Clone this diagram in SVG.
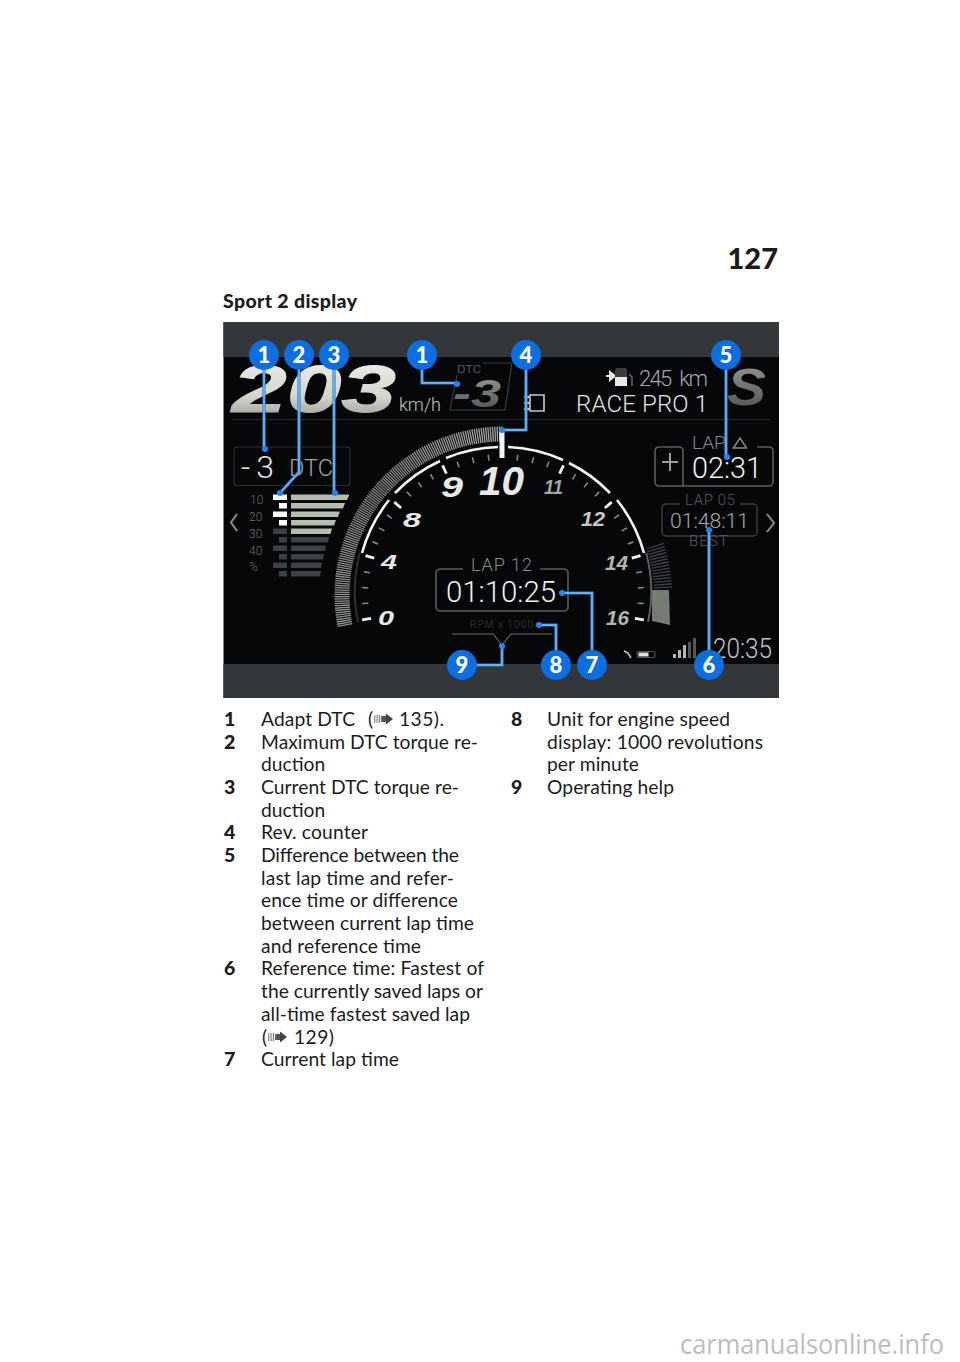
<svg xmlns="http://www.w3.org/2000/svg" xmlns:xlink="http://www.w3.org/1999/xlink" width="960" height="1362" viewBox="0 0 960 1362">
<style>
text{font-family:Roboto,"Liberation Sans",Arial,sans-serif;font-weight:300}
.b{font-family:Lato,"Liberation Sans",sans-serif;font-size:19.25px;font-weight:400;fill:#1c1c1c}
.n{font-family:Lato,"Liberation Sans",sans-serif;font-size:19.5px;font-weight:900;fill:#1c1c1c}
.g,.gg text{font-family:"Liberation Sans",sans-serif;font-weight:700;font-style:italic;fill:#e8e8e4}
.c{fill:none;stroke:#2f7fd0;stroke-width:3.2;stroke-linejoin:miter}
.c2{fill:none;stroke:#6ab2ee;stroke-width:1.8;stroke-linejoin:miter}
.d{fill:#1f86ec}
.bc{fill:#0b6fe3}
.bt{font-family:Lato,"Liberation Sans",sans-serif;font-weight:900;font-size:22px;fill:#fff;text-anchor:middle}
.tm{stroke:#8a8f8a;stroke-width:1.5}
.tb{stroke:#f2f2ee;stroke-width:2.8}
.w{fill:none;stroke:#f4f4f0;stroke-width:2.6}
.box{fill:none;stroke:#5a5e60;stroke-width:1.6}
</style>
<defs>
<linearGradient id="sp" x1="0" y1="0" x2="0" y2="1"><stop offset="0" stop-color="#f3f3ee"/><stop offset=".6" stop-color="#d6d6ce"/><stop offset="1" stop-color="#8e8e88"/></linearGradient>
<linearGradient id="s2" x1="0" y1="0" x2="0" y2="1"><stop offset="0" stop-color="#9a9c9a"/><stop offset="1" stop-color="#4a4c4c"/></linearGradient>
<linearGradient id="band" gradientUnits="userSpaceOnUse" x1="345" y1="625" x2="503" y2="430"><stop offset="0" stop-color="#8f9390"/><stop offset=".5" stop-color="#7d807e"/><stop offset="1" stop-color="#a5a8a2"/></linearGradient>
<line id="m" x1="503" y1="454" x2="503" y2="460" class="tm"/>
<line id="M" x1="503" y1="452" x2="503" y2="461" class="tb"/>
<g id="ref"><rect x="0" y="-4" width="1.4" height="8" fill="#999"/><rect x="2.4" y="-4" width="1.4" height="8" fill="#999"/><rect x="4.8" y="-4" width="1.4" height="8" fill="#888"/><rect x="7.2" y="-3" width="5" height="6" fill="#555"/><path d="M12 -5.500L19 0L12 5.500Z" fill="#444"/></g>
</defs>
<rect width="960" height="1362" fill="#fff"/>
<text x="778" y="269" text-anchor="end" font-size="29" style="font-family:Lato,sans-serif;font-weight:900" fill="#1c1c1c">127</text>
<text x="223" y="308" class="n" textLength="134">Sport 2 display</text>

<g id="display">
<rect x="223.500" y="322" width="555.500" height="376" fill="#050709"/>
<rect x="223.500" y="322" width="555.500" height="35" fill="#34373a"/>
<rect x="223.500" y="664" width="555.500" height="34" fill="#34373a"/>
<line x1="232" y1="419.500" x2="770" y2="419.500" stroke="#25282a"/>

<text x="232" y="412" class="g" font-size="67" style="fill:url(#sp);stroke:url(#sp);stroke-width:1" textLength="164" lengthAdjust="spacingAndGlyphs">203</text>
<text x="399" y="411" font-size="19" fill="#c4c6c4" textLength="42" lengthAdjust="spacingAndGlyphs">km/h</text>
<path d="M450 410L457 375M483 363H512L505 410" fill="none" stroke="#3a3d3f" stroke-width="1.200"/>
<path d="M450 410H505" stroke="#3a3d3f" stroke-width="1.200"/>
<text x="457" y="373" font-size="10" fill="#777" textLength="24" lengthAdjust="spacingAndGlyphs">DTC</text>
<text x="453" y="407" font-size="38" class="g" style="fill:url(#s2)" textLength="48" lengthAdjust="spacingAndGlyphs">-3</text>
<path d="M530 395H544V411H530Z" fill="none" stroke="#c8c8c8" stroke-width="1.600"/>
<path d="M524 397h5M524 403h5M524 409h5" stroke="#c8c8c8" stroke-width="2.500"/>
<text x="639" y="386" font-size="22" fill="#a4a6a4" textLength="69" lengthAdjust="spacing" word-spacing="5">245 km</text>
<path d="M606 376h6M610 372l5 4-5 4Z" stroke="#e8e8e8" fill="#e8e8e8" stroke-width="2"/>
<rect x="615" y="368" width="12" height="18" rx="2" fill="#3a3d3f"/><rect x="615" y="377" width="12" height="9" fill="#e8e8e8"/>
<path d="M629 374l3 3V386" stroke="#666" stroke-width="1.500" fill="none"/>
<text x="576" y="412" font-size="24" fill="#e4e4e0" textLength="132" lengthAdjust="spacing">RACE PRO 1</text>
<text x="727" y="405" class="g" font-size="52" style="fill:url(#s2)" textLength="39" lengthAdjust="spacingAndGlyphs">S</text>

<!-- DTC panel -->
<rect x="234" y="447" width="116" height="38.500" rx="3" fill="none" stroke="#2c2f31" stroke-width="1.200"/>
<text x="241" y="478" font-size="32" fill="#e8e8e8" textLength="33" lengthAdjust="spacing">-3</text>
<text x="289" y="476" font-size="24" fill="#a0a2a0" textLength="44" lengthAdjust="spacingAndGlyphs">DTC</text>
<g font-size="12" fill="#6c6e6c">
<text x="250" y="504">10</text><text x="249" y="521">20</text><text x="249" y="538">30</text><text x="249" y="555">40</text><text x="249" y="571">%</text>
</g>
<path d="M237 514L231 522.500L237 531" fill="none" stroke="#8c8e8c" stroke-width="2"/>
<path d="M767 514L774 523L767 532" fill="none" stroke="#8c8e8c" stroke-width="2"/>
<g fill="#b6bcae">
<path d="M291 494.500H349.500L347 500H291Z"/><path d="M291 503H345L343 508.500H291Z"/><path d="M291 511.500H340L338 517H291Z"/><path d="M291 520H336L334 525.500H291Z"/><path d="M291 528.500H332L330.500 534H291Z"/>
</g>
<g fill="#3c4145">
<path d="M291 537H329L328 542.500H291Z"/><path d="M291 545.500H326L325 551H291Z"/><path d="M291 554H324L323 559.500H291Z"/><path d="M291 562.500H322L321 568H291Z"/><path d="M291 571H321L320 576.500H291Z"/>
</g>
<g fill="#fff">
<rect x="273" y="494.500" width="14" height="5.500"/><rect x="279" y="503" width="8" height="5.500"/><rect x="273" y="511.500" width="14" height="5.500"/><rect x="279" y="520" width="8" height="5.500"/>
</g>
<g fill="#3c4145">
<rect x="273" y="528.500" width="14" height="5.500"/><rect x="279" y="537" width="8" height="5.500"/><rect x="273" y="545.500" width="14" height="5.500"/><rect x="279" y="554" width="8" height="5.500"/><rect x="273" y="562.500" width="14" height="5.500"/><rect x="279" y="571" width="8" height="5.500"/>
</g>

<!-- gauge -->
<path d="M345 625.700A161 161 0 0 1 503 434" fill="none" stroke="url(#band)" stroke-width="15" stroke-dasharray="1.300 .9"/>
<path d="M655 545.600A160 160 0 0 1 663 589" fill="none" stroke="#3a3d41" stroke-width="18" stroke-dasharray="1.500 1.500"/>
<path d="M652 590H669L670 625L652 621Z" fill="#767b76"/>
<path d="M359.800 553A148 148 0 0 0 358 622" fill="none" stroke="#2e3134" stroke-width="2"/>
<path d="M646.200 553A148 148 0 0 1 648 622" fill="none" stroke="#5c6062" stroke-width="2"/>
<g class="w">
<path d="M362 553A148 148 0 0 1 389 500"/><path d="M395 493A148 148 0 0 1 440 461"/><path d="M446 458A148 148 0 0 1 498 447"/><path d="M508 447A148 148 0 0 1 563 460"/><path d="M569 463A148 148 0 0 1 610 493"/><path d="M617 500A148 148 0 0 1 644 553"/>
</g>
<g>
<use href="#M" transform="rotate(-100 503 595)"/><use href="#m" transform="rotate(-93.500 503 595)"/><use href="#m" transform="rotate(-87 503 595)"/><use href="#m" transform="rotate(-80.500 503 595)"/><use href="#M" transform="rotate(-74 503 595)"/><use href="#m" transform="rotate(-67.800 503 595)"/><use href="#m" transform="rotate(-61.600 503 595)"/><use href="#m" transform="rotate(-55.400 503 595)"/><use href="#M" transform="rotate(-49.500 503 595)"/><use href="#m" transform="rotate(-43 503 595)"/><use href="#m" transform="rotate(-37 503 595)"/><use href="#m" transform="rotate(-31 503 595)"/><use href="#M" transform="rotate(-25 503 595)"/><use href="#m" transform="rotate(-19 503 595)"/><use href="#m" transform="rotate(-12.500 503 595)"/><use href="#m" transform="rotate(-6 503 595)"/>
<use href="#m" transform="rotate(6 503 595)"/><use href="#m" transform="rotate(12.500 503 595)"/><use href="#m" transform="rotate(19 503 595)"/><use href="#M" transform="rotate(25 503 595)"/><use href="#m" transform="rotate(31 503 595)"/><use href="#m" transform="rotate(37 503 595)"/><use href="#m" transform="rotate(43 503 595)"/><use href="#M" transform="rotate(49.500 503 595)"/><use href="#m" transform="rotate(55.400 503 595)"/><use href="#m" transform="rotate(61.600 503 595)"/><use href="#m" transform="rotate(67.800 503 595)"/><use href="#M" transform="rotate(74 503 595)"/><use href="#m" transform="rotate(80.500 503 595)"/><use href="#m" transform="rotate(87 503 595)"/><use href="#m" transform="rotate(93.500 503 595)"/><use href="#M" transform="rotate(100 503 595)"/>
</g>
<line x1="502" y1="428" x2="502" y2="458" stroke="#f4f4f0" stroke-width="5"/>
<g class="gg">
<text x="441" y="497" font-size="29" textLength="22" lengthAdjust="spacingAndGlyphs">9</text><text x="479" y="495" font-size="40" textLength="45" lengthAdjust="spacingAndGlyphs">10</text><text x="544" y="494" font-size="21" style="fill:#a8aaa6" textLength="19" lengthAdjust="spacingAndGlyphs">11</text><text x="403" y="527" font-size="21" textLength="18" lengthAdjust="spacingAndGlyphs">8</text><text x="581" y="526" font-size="21" style="fill:#c8c8c4" textLength="24" lengthAdjust="spacingAndGlyphs">12</text><text x="381" y="569" font-size="21" textLength="16" lengthAdjust="spacingAndGlyphs">4</text><text x="605" y="570" font-size="21" style="fill:#b4b6b2" textLength="23" lengthAdjust="spacingAndGlyphs">14</text><text x="378" y="625" font-size="21" textLength="16" lengthAdjust="spacingAndGlyphs">0</text><text x="606" y="625" font-size="21" style="fill:#b4b6b2" textLength="23" lengthAdjust="spacingAndGlyphs">16</text>
</g>

<!-- lap centre -->
<path d="M463 569H440a4 4 0 0 0-4 4V607a4 4 0 0 0 4 4H564a4 4 0 0 0 4-4V573a4 4 0 0 0-4-4H540" class="box"/>
<text x="471" y="571" font-size="18" fill="#8a8c8a" textLength="61" lengthAdjust="spacing">LAP 12</text>
<text x="446" y="602" font-size="30" fill="#f0f0ec" textLength="110" lengthAdjust="spacingAndGlyphs">01:10:25</text>
<text x="470" y="628" font-size="10" fill="#3a3c3e" textLength="63" lengthAdjust="spacing">RPM x 1000</text>
<path d="M452 634H493L502 645L511 634H552" fill="none" stroke="#6a6c6c" stroke-width="1.100"/>

<!-- right panel -->
<path d="M655 451a4 4 0 0 1 4-4H679a4 4 0 0 1 4 4V486H659a4 4 0 0 1-4-4Z" class="box"/>
<path d="M683 486H769a4 4 0 0 0 4-4V451a4 4 0 0 0-4-4H757" class="box"/>
<path d="M670 453V471M662 462H678" stroke="#9a9c9a" stroke-width="2"/>
<text x="692" y="449" font-size="19" fill="#85878a">LAP</text>
<path d="M733.500 448L740 438L746.500 448Z" fill="none" stroke="#85878a" stroke-width="1.500"/>
<text x="692" y="478" font-size="30" fill="#f0f0ec" textLength="70" lengthAdjust="spacingAndGlyphs">02:31</text>
<path d="M680 504H666a4 4 0 0 0-4 4V532a4 4 0 0 0 4 4H753a4 4 0 0 0 4-4V508a4 4 0 0 0-4-4H740" fill="none" stroke="#3a3d3f" stroke-width="1.400"/>
<text x="685" y="505" font-size="15" fill="#55585a" textLength="50" lengthAdjust="spacing">LAP 05</text>
<text x="670" y="528" font-size="21" fill="#a8aaa8" textLength="79" lengthAdjust="spacingAndGlyphs">01:48:11</text>
<text x="689" y="546" font-size="15" fill="#5c5e60" textLength="39" lengthAdjust="spacing">BEST</text>
<text x="713" y="658" font-size="27" fill="#c0c2c0" textLength="59" lengthAdjust="spacingAndGlyphs">20:35</text>
<path d="M673 654h3v4h-3ZM678 650h3v8h-3ZM683 645h3v13h-3Z" fill="#b4b6b4"/><path d="M688 642h3v16h-3ZM693 638h3v20h-3Z" fill="#55585a"/>
<path d="M624 651L628 653L631 658" fill="none" stroke="#c8c8c8" stroke-width="1.500"/>
<rect x="637" y="651.500" width="18" height="6" rx="1.500" fill="none" stroke="#555" stroke-width="1.200"/><rect x="638.500" y="652.500" width="10" height="4" fill="#e0e0e0"/>
</g>

<g id="connectors">
<path class="c" d="M264 355V449"/><path class="c" d="M299 355V472L280 493"/><path class="c" d="M334 355V493"/><path class="c" d="M422 355V383H457"/><path class="c" d="M526 355V430H502"/><path class="c" d="M726 355V457"/><path class="c" d="M709 665V530"/><path class="c" d="M592 665V593H562"/><path class="c" d="M556 665V625H539"/><path class="c" d="M462 665H502V646"/>
<path class="c2" d="M264 355V449"/><path class="c2" d="M299 355V472L280 493"/><path class="c2" d="M334 355V493"/><path class="c2" d="M422 355V383H457"/><path class="c2" d="M526 355V430H502"/><path class="c2" d="M726 355V457"/><path class="c2" d="M709 665V530"/><path class="c2" d="M592 665V593H562"/><path class="c2" d="M556 665V625H539"/><path class="c2" d="M462 665H502V646"/>
<circle class="d" cx="265" cy="449" r="3"/><circle class="d" cx="280" cy="493" r="3"/><circle class="d" cx="335" cy="493" r="3"/><circle class="d" cx="457" cy="384" r="3"/><circle class="d" cx="502" cy="430" r="3"/><circle class="d" cx="727" cy="457" r="3"/><circle class="d" cx="709" cy="530" r="3"/><circle class="d" cx="562" cy="593" r="3"/><circle class="d" cx="539" cy="625" r="3"/><circle class="d" cx="502" cy="646" r="3"/>
</g>
<g id="n1a"><circle class="bc" cx="264" cy="355" r="15"/><text class="bt" x="264" y="363">1</text></g>
<g id="n2"><circle class="bc" cx="299" cy="355" r="15"/><text class="bt" x="299" y="363">2</text></g>
<g id="n3"><circle class="bc" cx="334" cy="355" r="15"/><text class="bt" x="334" y="363">3</text></g>
<g id="n1b"><circle class="bc" cx="422" cy="355" r="15"/><text class="bt" x="422" y="363">1</text></g>
<g id="n4"><circle class="bc" cx="526" cy="355" r="15"/><text class="bt" x="526" y="363">4</text></g>
<g id="n5"><circle class="bc" cx="726" cy="355" r="15"/><text class="bt" x="726" y="363">5</text></g>
<g id="n9"><circle class="bc" cx="462" cy="665" r="15"/><text class="bt" x="462" y="673">9</text></g>
<g id="n8"><circle class="bc" cx="556" cy="665" r="15"/><text class="bt" x="556" y="673">8</text></g>
<g id="n7"><circle class="bc" cx="592" cy="665" r="15"/><text class="bt" x="592" y="673">7</text></g>
<g id="n6"><circle class="bc" cx="709" cy="665" r="15"/><text class="bt" x="709" y="673">6</text></g>

<g id="legend">
<text class="n" x="224" y="726">1</text><text class="b" x="261" y="726" textLength="94">Adapt DTC</text><text class="b" x="368" y="726">(</text><use href="#ref" x="374" y="719"/><text class="b" x="399" y="726" textLength="45">135).</text>
<text class="n" x="224" y="749">2</text><text class="b" x="261" y="749" textLength="217">Maximum DTC torque re-</text>
<text class="b" x="261" y="771">duction</text>
<text class="n" x="224" y="794">3</text><text class="b" x="261" y="794" textLength="198">Current DTC torque re-</text>
<text class="b" x="261" y="817">duction</text>
<text class="n" x="224" y="839">4</text><text class="b" x="261" y="839" textLength="107">Rev. counter</text>
<text class="n" x="224" y="862">5</text><text class="b" x="261" y="862" textLength="198">Difference between the</text>
<text class="b" x="261" y="885" textLength="193">last lap time and refer-</text>
<text class="b" x="261" y="907" textLength="197">ence time or difference</text>
<text class="b" x="261" y="930" textLength="213">between current lap time</text>
<text class="b" x="261" y="953" textLength="160">and reference time</text>
<text class="n" x="224" y="975">6</text><text class="b" x="261" y="975" textLength="223">Reference time: Fastest of</text>
<text class="b" x="261" y="998" textLength="222">the currently saved laps or</text>
<text class="b" x="261" y="1021" textLength="209">all-time fastest saved lap</text>
<text class="b" x="262" y="1044">(</text><use href="#ref" x="268" y="1037"/><text class="b" x="294" y="1044" textLength="40">129)</text>
<text class="n" x="224" y="1066">7</text><text class="b" x="261" y="1066" textLength="138">Current lap time</text>
<text class="n" x="511" y="726">8</text><text class="b" x="547" y="726" textLength="183">Unit for engine speed</text>
<text class="b" x="547" y="749" textLength="216">display: 1000 revolutions</text>
<text class="b" x="547" y="771" textLength="92">per minute</text>
<text class="n" x="511" y="794">9</text><text class="b" x="547" y="794" textLength="127">Operating help</text>
</g>
<text x="680" y="1354" font-size="27" fill="#bdbdbd" style="font-family:'Open Sans',sans-serif;font-weight:400" textLength="264" lengthAdjust="spacingAndGlyphs">carmanualsonline.info</text>
</svg>
